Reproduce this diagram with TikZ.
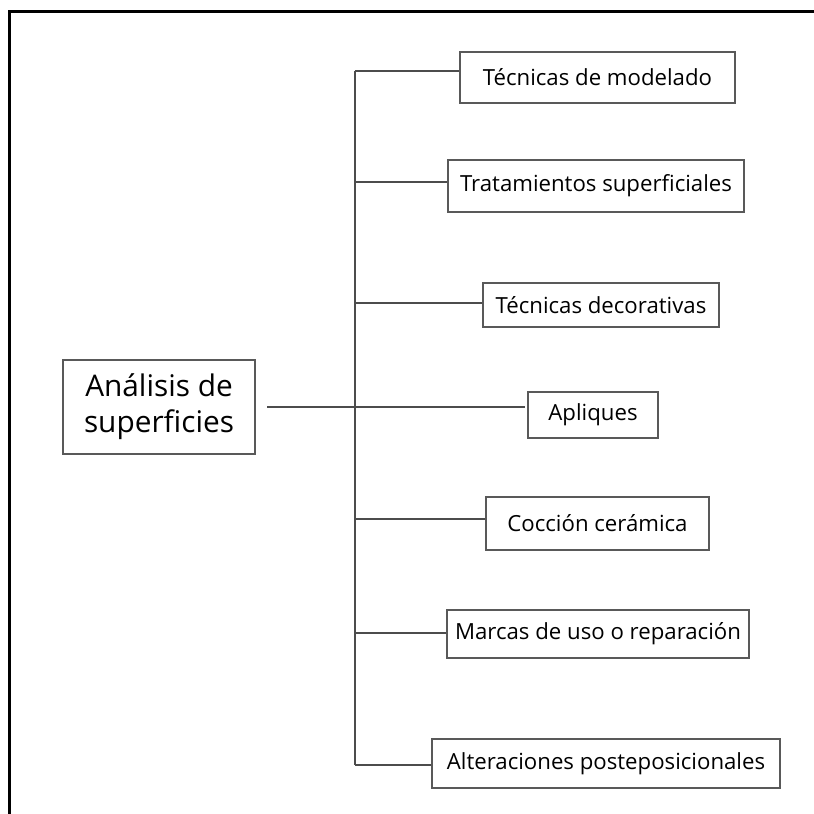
\documentclass[tikz,border=0pt]{standalone}
\usepackage{fontspec}
\setmainfont{Open Sans}
\begin{document}
\begin{tikzpicture}[x=1pt,y=-1pt,
  leaf/.style={draw=black!65, line width=1.2pt, fill=white, inner sep=0pt, font=\fontsize{22.2}{26}\selectfont, text=black},
  root/.style={draw=black!65, line width=1.4pt, fill=white, inner sep=0pt, align=center, font=\fontsize{29.8}{36}\selectfont, text=black},
  conn/.style={draw=black!70, line width=1.2pt}]
\useasboundingbox (0,0) rectangle (814,814);
\fill[white] (0,0) rectangle (814,814);
\draw[line width=2.6pt, black] (9.5,814) -- (9.5,11.3) -- (814,11.3);
\node[root, minimum width=192pt, minimum height=94pt] (main) at (159,407) {Análisis de\\superficies};
\node[leaf, minimum width=275pt, minimum height=51pt] (b1) at (597.5,77.5) {Técnicas de modelado};
\node[leaf, minimum width=296pt, minimum height=52pt] (b2) at (596,186) {Tratamientos superficiales};
\node[leaf, minimum width=236pt, minimum height=44pt] (b3) at (601,305) {Técnicas decorativas};
\node[leaf, minimum width=130pt, minimum height=46pt] (b4) at (593,415) {Apliques};
\node[leaf, minimum width=223pt, minimum height=53pt] (b5) at (597.5,523.5) {Cocción cerámica};
\node[leaf, minimum width=302pt, minimum height=48pt] (b6) at (598,634) {Marcas de uso o reparación};
\node[leaf, minimum width=348pt, minimum height=49pt] (b7) at (606,763.5) {Alteraciones posteposicionales};
\coordinate (j1) at (355,71);
\coordinate (j2) at (355,182);
\coordinate (j3) at (355,303);
\coordinate (j5) at (355,519);
\coordinate (j6) at (355,633);
\coordinate (j7) at (355,765);
\coordinate (ms) at (267,407);
\coordinate (me) at (525,407);
\draw[conn] (j1) -- (j7);
\draw[conn] (ms) -- (me);
\draw[conn] (j1) -- (j1 -| b1.west);
\draw[conn] (j2) -- (j2 -| b2.west);
\draw[conn] (j3) -- (j3 -| b3.west);
\draw[conn] (j5) -- (j5 -| b5.west);
\draw[conn] (j6) -- (j6 -| b6.west);
\draw[conn] (j7) -- (j7 -| b7.west);
\end{tikzpicture}
\end{document}
